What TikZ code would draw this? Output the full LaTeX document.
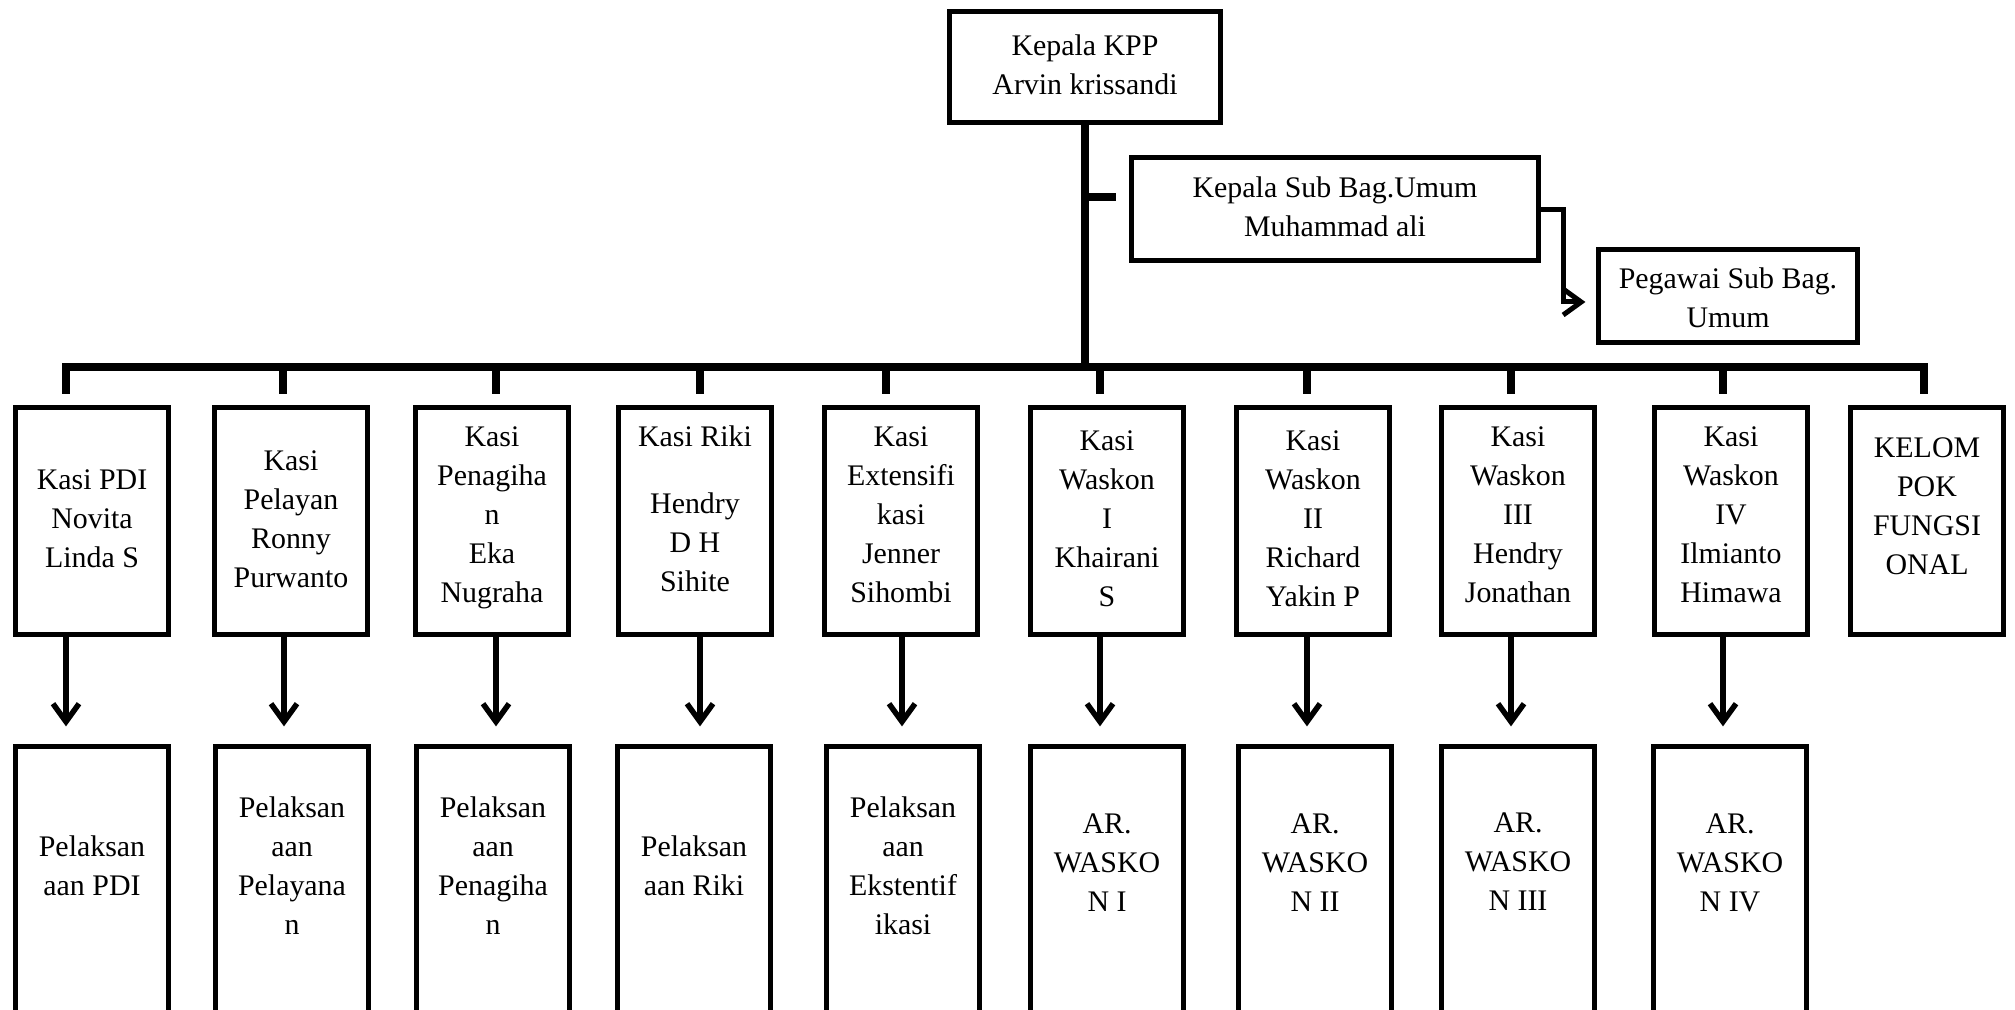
\documentclass[tikz,border=0pt]{standalone}
\usepackage{fontspec}
\setmainfont{Liberation Serif}
\usetikzlibrary{arrows.meta}
\newcommand{\bx}[2][0cm]{\raisebox{#1}[\height][\depth]{\begin{tabular}{@{}c@{}}#2\end{tabular}}}
\begin{document}
\begin{tikzpicture}[x=0.01cm,y=-0.01cm,
  font=\fontsize{8.5}{11.1}\selectfont,
  box/.style={draw, line width=0.05cm, inner sep=0pt, minimum width=1.53cm},
  toprow/.style={box, minimum height=2.27cm},
  botrow/.style={box, minimum height=2.70cm},
  heavy/.style={line width=0.08cm},
  arr/.style={line width=0.055cm, -{Straight Barb[length=0.18cm,width=0.26cm]}},
]
\useasboundingbox (0,0) rectangle (2015,1010);
\clip (0,0) rectangle (2015,1010);

% top
\node[box, minimum width=2.71cm, minimum height=1.11cm] (K) at (1085,67) {\bx{Kepala KPP\\Arvin krissandi}};
\node[box, minimum width=4.06cm, minimum height=1.02cm] (S) at (1335,209) {\bx{Kepala Sub Bag.Umum\\Muhammad ali}};
\node[box, minimum width=2.58cm, minimum height=0.93cm] (P) at (1728,296) {\bx[-0.04cm]{Pegawai Sub Bag.\\Umum}};

% first row
\node[toprow] (t1) at (92,521) {\bx{Kasi PDI\\Novita\\Linda S}};
\node[toprow] (t2) at (291,521) {\bx{Kasi\\Pelayan\\Ronny\\Purwanto}};
\node[toprow] (t3) at (492,521) {\bx[0.04cm]{Kasi\\Penagiha\\n\\Eka\\Nugraha}};
\node[toprow] (t4) at (695,521) {\bx[0.10cm]{Kasi Riki\\[0.28cm]Hendry\\D H\\Sihite}};
\node[toprow] (t5) at (901,521) {\bx[0.04cm]{Kasi\\Extensifi\\kasi\\Jenner\\Sihombi}};
\node[toprow] (t6) at (1107,521) {\bx{Kasi\\Waskon\\I\\Khairani\\S}};
\node[toprow] (t7) at (1313,521) {\bx{Kasi\\Waskon\\II\\Richard\\Yakin P}};
\node[toprow] (t8) at (1518,521) {\bx[0.04cm]{Kasi\\Waskon\\III\\Hendry\\Jonathan}};
\node[toprow] (t9) at (1731,521) {\bx[0.04cm]{Kasi\\Waskon\\IV\\Ilmianto\\Himawa}};
\node[toprow] (t10) at (1927,521) {\bx[0.13cm]{KELOM\\POK\\FUNGSI\\ONAL}};

% second row
\node[botrow] (b1) at (92,882) {\bx[0.14cm]{Pelaksan\\aan PDI}};
\node[botrow] (b2) at (292,882) {\bx[0.14cm]{Pelaksan\\aan\\Pelayana\\n}};
\node[botrow] (b3) at (493,882) {\bx[0.14cm]{Pelaksan\\aan\\Penagiha\\n}};
\node[botrow] (b4) at (694,882) {\bx[0.14cm]{Pelaksan\\aan Riki}};
\node[botrow] (b5) at (903,882) {\bx[0.14cm]{Pelaksan\\aan\\Ekstentif\\ikasi}};
\node[botrow] (b6) at (1107,882) {\bx[0.17cm]{AR.\\WASKO\\N I}};
\node[botrow] (b7) at (1315,882) {\bx[0.17cm]{AR.\\WASKO\\N II}};
\node[botrow] (b8) at (1518,882) {\bx[0.18cm]{AR.\\WASKO\\N III}};
\node[botrow] (b9) at (1730,882) {\bx[0.17cm]{AR.\\WASKO\\N IV}};

% bus and trunk
\coordinate (busL) at (62,367);
\coordinate (busR) at (1928,367);
\draw[heavy] (busL) -- (busR);
\draw[heavy] (K.south) -- (K.south |- busL);
\draw[heavy, shorten >=0.13cm] (K.south |- 0,197) -- (S.west |- 0,197);

\foreach \i/\x in {1/66,2/283,3/496,4/700,5/886,6/1100,7/1307,8/1511,9/1723,10/1924}
  \draw[heavy, shorten >=0.11cm] (busL -| \x,0) -- (t\i.north -| \x,0);

\foreach \i/\x in {1/66,2/284,3/496,4/700,5/902,6/1100,7/1307,8/1511,9/1723}
  \draw[arr, shorten >=0.18cm] (t\i.south -| \x,0) -- (b\i.north -| \x,0);

\draw[arr, line width=0.05cm, shorten >=0.11cm] (S.east |- 0,210) -| (1563,302) -- (P.west |- 0,302);
\end{tikzpicture}
\end{document}
